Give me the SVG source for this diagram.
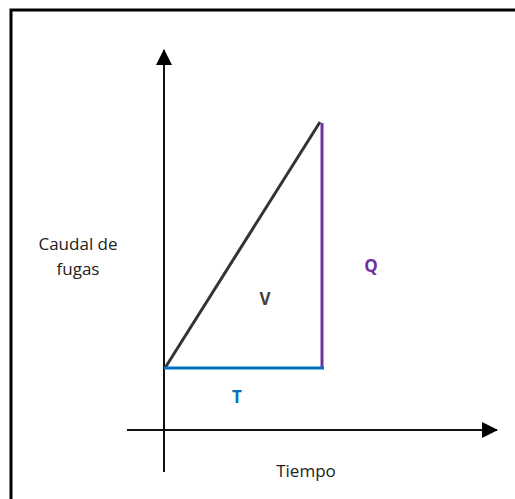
<svg xmlns="http://www.w3.org/2000/svg" width="515" height="499" viewBox="0 0 515 499">
<defs>
<style>
.lbl{font-family:"Open Sans","Liberation Sans",sans-serif;font-size:17px;text-anchor:middle;fill:#222}
.bold{font-weight:bold}
.axis{stroke:#111;stroke-width:2;fill:none}
</style>
<marker id="ah" markerWidth="8" markerHeight="8" refX="7" refY="4" orient="auto" markerUnits="userSpaceOnUse" viewBox="0 0 8 8">
<path d="M0,0 L8,4 L0,8 Z" fill="#000"/>
</marker>
<marker id="ahb" markerWidth="16" markerHeight="16" refX="15" refY="8" orient="auto" markerUnits="userSpaceOnUse" viewBox="0 0 16 16">
<path d="M0,0 L16,8 L0,16 Z" fill="#000"/>
</marker>
</defs>
<rect x="0" y="0" width="515" height="499" fill="#fff"/>
<rect id="frame" x="11" y="10" width="520" height="500" fill="none" stroke="#000" stroke-width="3"/>
<g id="connectors">
<line id="y-axis" class="axis" x1="164" y1="472" x2="164" y2="50" marker-end="url(#ahb)"/>
<line id="x-axis" class="axis" x1="127" y1="430" x2="497" y2="430" marker-end="url(#ahb)"/>
<line id="diag" x1="165" y1="368" x2="320" y2="122" stroke="#333" stroke-width="3"/>
<line id="q-line" x1="322" y1="123" x2="322" y2="369" stroke="#7030A0" stroke-width="3"/>
<line id="t-line" x1="164" y1="368" x2="324" y2="368" stroke="#0070C0" stroke-width="3"/>
</g>
<g id="ylabel"><text class="lbl" x="78" y="250">Caudal de</text><text class="lbl" x="78" y="275">fugas</text></g>
<g id="xlabel"><text class="lbl" x="306" y="477">Tiempo</text></g>
<g id="v"><text class="lbl bold" x="265" y="305" fill="#404040" style="fill:#404040">V</text></g>
<g id="q"><text class="lbl bold" x="371" y="272" style="fill:#7030A0">Q</text></g>
<g id="t"><text class="lbl bold" x="237" y="403" style="fill:#0070C0">T</text></g>
</svg>
